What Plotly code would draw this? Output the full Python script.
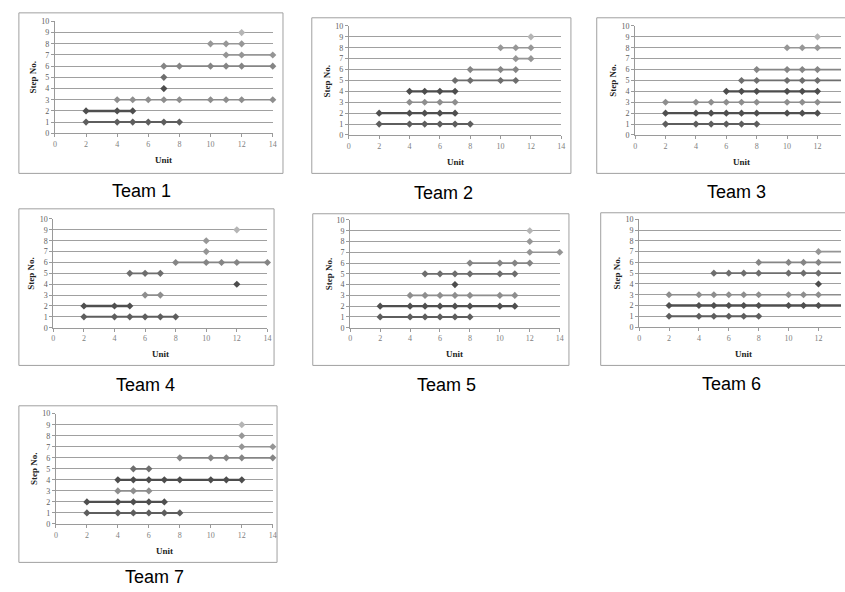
import plotly.graph_objects as go

W, H = 845, 592

steps = [1, 2, 3, 4, 5, 6, 7, 8, 9]
x_ticks = [0, 2, 4, 6, 8, 10, 12, 14]
y_ticks = [0, 1, 2, 3, 4, 5, 6, 7, 8, 9, 10]
team_names = ["Team 1", "Team 2", "Team 3", "Team 4", "Team 5", "Team 6", "Team 7"]

# units at which each step (1..9) was recorded, per team
team1_units = [[2, 4, 5, 6, 7, 8], [2, 4, 5], [4, 5, 6, 7, 8, 10, 11, 12, 14], [7], [7],
               [7, 8, 10, 11, 12, 14], [11, 12, 14], [10, 11, 12], [12]]
team2_units = [[2, 4, 5, 6, 7, 8], [2, 4, 5, 6, 7], [4, 5, 6, 7], [4, 5, 6, 7], [7, 8, 10, 11],
               [8, 10, 11], [11, 12], [10, 11, 12], [12]]
team3_units = [[2, 4, 5, 6, 7, 8], [2, 4, 5, 6, 7, 8, 10, 11, 12],
               [2, 4, 5, 6, 7, 8, 10, 11, 12, 14], [6, 7, 8, 10, 11, 12],
               [7, 8, 10, 11, 12, 14], [8, 10, 11, 12, 14], [], [10, 11, 12, 14], [12]]
team4_units = [[2, 4, 5, 6, 7, 8], [2, 4, 5], [6, 7], [12], [5, 6, 7],
               [8, 10, 11, 12, 14], [10], [10], [12]]
team5_units = [[2, 4, 5, 6, 7, 8], [2, 4, 5, 6, 7, 8, 10, 11], [4, 5, 6, 7, 8, 10, 11], [7],
               [5, 6, 7, 8, 10, 11], [8, 10, 11, 12], [12, 14], [12], [12]]
team6_units = [[2, 4, 5, 6, 7, 8], [2, 4, 5, 6, 7, 8, 10, 11, 12, 14],
               [2, 4, 5, 6, 7, 8, 10, 11, 12, 14], [12], [5, 6, 7, 8, 10, 11, 12, 14],
               [8, 10, 11, 12, 14], [12, 14], [], []]
team7_units = [[2, 4, 5, 6, 7, 8], [2, 4, 5, 6, 7], [4, 5, 6], [4, 5, 6, 7, 8, 10, 11, 12],
               [5, 6], [8, 10, 11, 12, 14], [12, 14], [12], [12]]

all_units = [team1_units, team2_units, team3_units, team4_units,
             team5_units, team6_units, team7_units]

step_colors = ["#5e5e5e", "#4f4f4f", "#8e8e8e", "#4d4d4d", "#6e6e6e",
               "#858585", "#959595", "#979797", "#b5b5b5"]
step_widths = [2, 2.4, 1.6, 2.2, 1.8, 1.8, 1.6, 1.6, 1.4]

# layout in pixels: box (l, t, r, b), plot x0, px per unit, y0 px, y10 px
panels = [
    dict(box=(17, 9, 283, 172), x0=53.3, sx=(272.7 - 53.3) / 14, y0=131.3, y10=17.7, cap=(141, 190)),
    dict(box=(312, 14, 573, 172), x0=349.3, sx=(563.3 - 349.3) / 14, y0=133, y10=22.3, cap=(445, 192)),
    dict(box=(599, 14, 850, 172), x0=637.7, sx=15.3, y0=133, y10=22.3, cap=(740, 191)),
    dict(box=(17, 208, 274, 367), x0=51.7, sx=(267.3 - 51.7) / 14, y0=328.7, y10=218.3, cap=(145, 387)),
    dict(box=(313, 213, 571, 367), x0=350.7, sx=(561.7 - 350.7) / 14, y0=328.7, y10=219.3, cap=(448, 387)),
    dict(box=(603, 212, 850, 367), x0=641.7, sx=15.05, y0=328, y10=218.7, cap=(735, 386)),
    dict(box=(17, 408, 277, 567), x0=54.3, sx=(272.7 - 54.3) / 14, y0=528, y10=416, cap=(154, 582)),
]


def px(x):
    return x / W


def py(y):
    return 1 - y / H


fig = go.Figure()
layout = dict(width=W, height=H, margin=dict(l=0, r=0, t=0, b=0), autosize=False,
              paper_bgcolor="white", plot_bgcolor="white", showlegend=False)
shapes = []
annotations = []

serif = "Liberation Serif, Times New Roman, serif"

for i, p in enumerate(panels):
    k = "" if i == 0 else str(i + 1)
    xa, ya = "x" + k, "y" + k
    xend = p["x0"] + 14 * p["sx"]
    xright = min(xend, W)
    xmax = (xright - p["x0"]) / p["sx"]
    layout["xaxis" + k] = dict(
        domain=[px(p["x0"]), px(xright)], range=[0, xmax], anchor=ya,
        tickvals=x_ticks, showgrid=False, zeroline=False, showline=True,
        linecolor="#9a9a9a", linewidth=1, ticks="outside", ticklen=3, tickcolor="#9a9a9a",
        tickfont=dict(family=serif, size=8, color="#808080"), fixedrange=True)
    layout["yaxis" + k] = dict(
        domain=[py(p["y0"]), py(p["y10"])], range=[0, 10], anchor=xa,
        tickvals=y_ticks, showgrid=True, gridcolor="#a0a0a0", gridwidth=1, zeroline=False,
        showline=True, linecolor="#9a9a9a", linewidth=1, ticks="outside", ticklen=3,
        tickcolor="#9a9a9a", tickfont=dict(family=serif, size=8, color="#606060"),
        fixedrange=True)
    units = all_units[i]
    for s, u, c, w in zip(steps, units, step_colors, step_widths):
        if not u:
            continue
        fig.add_trace(go.Scatter(
            x=u, y=[s] * len(u), mode="lines+markers", xaxis=xa, yaxis=ya,
            line=dict(color=c, width=w), marker=dict(symbol="diamond", size=5.5, color=c),
            cliponaxis=False, hoverinfo="x+y"))
    l, t, r, b = p["box"]
    shapes.append(dict(type="rect", xref="paper", yref="paper",
                       x0=px(l), x1=px(r), y0=py(b), y1=py(t),
                       line=dict(color="#a0a0a0", width=1), fillcolor="rgba(0,0,0,0)",
                       layer="below"))
    xc = (p["x0"] + xend) / 2
    annotations.append(dict(text="<b>Unit</b>", xref="paper", yref="paper",
                            x=px(xc), y=py(p["y0"] + 27), showarrow=False,
                            xanchor="center", yanchor="middle",
                            font=dict(family=serif, size=9, color="#222222")))
    annotations.append(dict(text="<b>Step No.</b>", xref="paper", yref="paper",
                            x=px(p["x0"] - 22), y=py((p["y0"] + p["y10"]) / 2),
                            showarrow=False, textangle=-90,
                            xanchor="center", yanchor="middle",
                            font=dict(family=serif, size=9, color="#222222")))
    annotations.append(dict(text=team_names[i], xref="paper", yref="paper",
                            x=px(p["cap"][0]), y=py(p["cap"][1]), showarrow=False,
                            xanchor="center", yanchor="middle",
                            font=dict(family="Liberation Sans, Arial, sans-serif", size=18,
                                      color="black")))

layout["shapes"] = shapes
layout["annotations"] = annotations
fig.update_layout(**layout)
fig.write_html(
    "out.html",
    config={"displayModeBar": False, "responsive": False},
    post_script="document.body.style.margin='0';document.body.style.padding='0';"
                "document.body.style.overflow='hidden';"
                "document.documentElement.style.overflow='hidden';",
)
